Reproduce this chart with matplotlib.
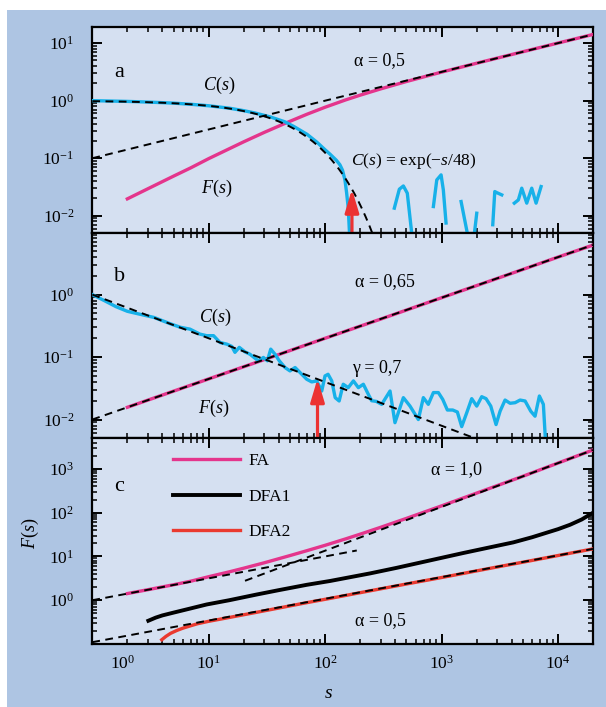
import numpy as np
import matplotlib
matplotlib.use('Agg')
import matplotlib.pyplot as plt
from matplotlib.ticker import FixedLocator, FixedFormatter, LogLocator, NullFormatter
from matplotlib.patches import Rectangle
from matplotlib import transforms

plt.rcParams['font.family'] = ['Liberation Serif', 'DejaVu Serif']
plt.rcParams['mathtext.fontset'] = 'custom'
plt.rcParams['mathtext.rm'] = 'Liberation Serif'
plt.rcParams['mathtext.it'] = 'Liberation Serif:italic'
plt.rcParams['mathtext.bf'] = 'Liberation Serif:bold'

nan = np.nan

# ---------------- data: panel a ----------------
fa_a_s = [2, 3, 5, 7, 10, 15, 20, 30, 46, 70, 100, 150, 200, 300, 500, 1000, 2000, 5000, 10000, 20000]
fa_a_F = [0.0197, 0.0295, 0.049, 0.068, 0.0985, 0.146, 0.193, 0.281, 0.409, 0.582, 0.769, 1.03, 1.245, 1.60,
          2.15, 3.13, 4.46, 7.07, 10.0, 14.1]
c_a_s = [1, 2, 3, 5, 7, 10, 15, 20, 25, 34, 45, 54, 70, 85, 100, 110, 125, 134, 141, 148, 153, 158, 164, nan,
         393, 434, 470, 508, 570, nan,
         851, 910, 991, 1036, 1093, nan,
         1472, 1820, 2006, nan,
         2754, 2866, 2980, 3290, nan,
         4219, 4570, 4887, 5394, 5955, 6489, 7161]
c_a_C = [1.0, 0.97, 0.945, 0.905, 0.865, 0.815, 0.74, 0.67, 0.61, 0.52, 0.43, 0.355, 0.26, 0.19, 0.14, 0.118,
         0.092, 0.077, 0.062, 0.042, 0.025, 0.0136, 0.003, nan,
         0.0136, 0.029, 0.033, 0.0247, 0.003, nan,
         0.0145, 0.042, 0.0514, 0.0282, 0.0075, nan,
         0.0177, 0.002, 0.0111, nan,
         0.0070, 0.0264, 0.0253, 0.0231, nan,
         0.0166, 0.0189, 0.0302, 0.0166, 0.0302, 0.0166, 0.0322]
fit_a_F_s = [1, 20000]
fit_a_F = [0.1, 14.1]
fit_a_tau = 48.0
fit_a_C_smax = 260
arrow_a = (170, 0.029)

# ---------------- data: panel b ----------------
fa_b_s = [2, 5, 10, 30, 100, 300, 1000, 3000, 10000, 20000]
fa_b_F = [0.0157, 0.0285, 0.0447, 0.091, 0.2, 0.405, 0.89, 1.81, 3.98, 6.2]
c_b_s = [1, 1.27, 1.6, 2.0, 2.5, 3.4, 4.7, 5.7, 6.9, 8.4, 9.6, 11.0, 12.5, 14.3, 15.8, 16.8, 18.3, 20.5, 22.6,
         24.5, 26.7, 29.5, 31.9, 34.1, 37.1, 40.4, 45.2, 49.9, 55.2, 60.9, 69.5, 76.7, 84.7, 93.5, 99.8, 106,
         114, 122, 132, 143, 158, 175, 193, 213, 235, 251, 275, 306, 361, 398, 470, 536, 632, 698, 770, 851,
         939, 1024, 1122, 1248, 1367, 1490, 1645, 1816, 2006, 2214, 2411, 2648, 2939, 3184, 3513, 3880, 4285,
         4727, 5222, 5837, 6356, 6925, 7494, 8017]
c_b_C = [1.0, 0.80, 0.64, 0.54, 0.49, 0.43, 0.34, 0.30, 0.28, 0.233, 0.22, 0.22, 0.171, 0.161, 0.148, 0.119,
         0.143, 0.121, 0.111, 0.0986, 0.087, 0.0986, 0.087, 0.134, 0.111, 0.087, 0.068, 0.060, 0.068, 0.0565,
         0.0441, 0.040, 0.0415, 0.0286, 0.0499, 0.053, 0.0415, 0.0224, 0.0198, 0.0367, 0.0324, 0.0415, 0.0324,
         0.0367, 0.0253, 0.020, 0.0195, 0.0175, 0.0286, 0.0089, 0.0224, 0.0164, 0.0100, 0.0224, 0.0175, 0.027,
         0.027, 0.021, 0.0142, 0.0142, 0.0132, 0.0077, 0.0128, 0.0216, 0.0164, 0.0232, 0.0216, 0.0164, 0.0083,
         0.0136, 0.0205, 0.0182, 0.0186, 0.0205, 0.0198, 0.0136, 0.0113, 0.0238, 0.0175, 0.002]
fit_b_F_s = [1, 20000]
fit_b_F = [0.01, 6.24]
fit_b_C_s = [1, 2000]
fit_b_C = [1.0, 0.0049]
arrow_b = (86, 0.045)

# ---------------- data: panel c ----------------
fa_c_s = [2, 3, 5, 7, 10, 15, 20, 30, 50, 70, 100, 150, 200, 300, 500, 1000, 2000, 5000, 10000, 20000]
fa_c_F = [1.42, 1.74, 2.26, 2.72, 3.45, 4.45, 5.4, 7.17, 10.5, 13.6, 18.0, 25.2, 32.3, 46.4, 74.2, 143, 280,
          680, 1360, 2710]
dfa1_s = [3.03, 3.5, 4, 4.97, 7, 9.6, 15, 25.8, 40, 69.5, 110, 243, 412, 1000, 1538, 2500, 4140, 6000, 8020,
          10000, 12700, 16000, 20000]
dfa1_F = [0.34, 0.40, 0.45, 0.52, 0.65, 0.80, 1.0, 1.35, 1.7, 2.25, 2.75, 4.1, 5.5, 9.3, 12.0, 15.8, 21, 27.5,
          35, 42, 53, 70, 100]
dfa2_s = [3.95, 4.3, 4.7, 5.3, 6, 6.9, 8, 10, 13.3, 25.8, 69.5, 110, 243, 500, 1000, 1538, 3000, 5000, 10000,
          20000]
dfa2_F = [0.125, 0.15, 0.175, 0.203, 0.23, 0.258, 0.29, 0.33, 0.38, 0.53, 0.88, 1.1, 1.64, 2.35, 3.3, 4.1, 5.75,
          7.4, 10.5, 14.9]
fit_c_05_s = [1, 187]
fit_c_05 = [1.0, 13.7]
fit_c_10_s = [20.5, 20000]
fit_c_10 = [2.78, 2712]
fit_c_low_s = [1, 20000]
fit_c_low = [0.11, 14.9]

# ---------------- styling ----------------
outer_bg = '#aec5e3'
ax_bg = '#d5e0f1'
pink = '#e4358c'
cyan = '#17b1e9'
red = '#ea3a30'
arrow_red = '#ec3232'

fig = plt.figure(figsize=(6.06, 7.07), dpi=100)
fig.patch.set_facecolor('white')
fig.patches.append(Rectangle((7 / 606, 0), 1 - 7 / 606, 1 - 10 / 707, transform=fig.transFigure,
                             facecolor=outer_bg, edgecolor='none', zorder=-10))

gs = fig.add_gridspec(3, 1, left=92.3 / 606, right=593 / 606, top=1 - 27 / 707, bottom=1 - 644 / 707,
                      hspace=0)
axa = fig.add_subplot(gs[0])
axb = fig.add_subplot(gs[1])
axc = fig.add_subplot(gs[2])

dash_kw = dict(color='black', lw=1.4, ls=(0, (4, 2.8)), zorder=5)
LW = 2.4


def style(ax, ylim, yt, ylabels, show_x):
    ax.set_xscale('log')
    ax.set_yscale('log')
    ax.set_facecolor(ax_bg)
    ax.set_xlim(1, 2e4)
    ax.set_ylim(*ylim)
    for sp in ax.spines.values():
        sp.set_linewidth(1.6)
    ax.xaxis.set_major_locator(FixedLocator([1, 10, 100, 1000, 10000]))
    ax.xaxis.set_minor_locator(LogLocator(base=10, subs=np.arange(2, 10), numticks=30))
    ax.yaxis.set_major_locator(FixedLocator(yt))
    ax.yaxis.set_major_formatter(FixedFormatter(ylabels))
    ax.yaxis.set_minor_locator(LogLocator(base=10, subs=np.arange(2, 10), numticks=30))
    ax.xaxis.set_minor_formatter(NullFormatter())
    ax.yaxis.set_minor_formatter(NullFormatter())
    ax.tick_params(which='both', direction='in', top=True, right=True, bottom=True, left=True)
    ax.tick_params(which='major', length=7.5, width=1.4)
    ax.tick_params(which='minor', length=3.8, width=1.1)
    ax.tick_params(axis='y', which='major', pad=13, labelsize=12.5)
    if show_x:
        ax.xaxis.set_major_formatter(FixedFormatter(['', r'$10^{1}$', r'$10^{2}$', r'$10^{3}$', r'$10^{4}$']))
        ax.tick_params(axis='x', which='major', pad=8, labelsize=12.5)
    else:
        ax.tick_params(axis='x', labelbottom=False)


style(axa, (0.0051, 19), [1e-2, 1e-1, 1, 10], [r'$10^{-2}$', r'$10^{-1}$', r'$10^{0}$', r'$10^{1}$'], False)
style(axb, (0.005, 9.8), [1e-2, 1e-1, 1], [r'$10^{-2}$', r'$10^{-1}$', r'$10^{0}$'], False)
style(axc, (0.1, 5000), [1, 10, 100, 1000], [r'$10^{0}$', r'$10^{1}$', r'$10^{2}$', r'$10^{3}$'], True)


def up_arrow(ax, pt):
    s, top = pt
    y0 = ax.get_ylim()[0]
    ax.annotate('', xy=(s, top), xytext=(s, y0), xycoords='data', textcoords='data',
                arrowprops=dict(arrowstyle='-|>,head_length=1.4,head_width=0.42', color=arrow_red, lw=2.3,
                                shrinkA=0, shrinkB=0, mutation_scale=10), zorder=6, annotation_clip=False)


def label(ax, x, y, s, fs=13):
    ax.text(x, y, s, transform=ax.transAxes, ha='center', va='center', fontsize=fs)


# ---- panel a ----
axa.plot(fa_a_s, fa_a_F, color=pink, lw=LW, zorder=3)
axa.plot(c_a_s, c_a_C, color=cyan, lw=LW, zorder=3)
axa.plot(fit_a_F_s, fit_a_F, **dash_kw)
s_exp = np.logspace(0, np.log10(fit_a_C_smax), 300)
axa.plot(s_exp, np.exp(-s_exp / fit_a_tau), **dash_kw)
up_arrow(axa, arrow_a)
label(axa, 0.054, 0.777, 'a', 16)
label(axa, 0.254, 0.714, r'$C(s)$')
label(axa, 0.574, 0.835, 'α = 0,5')
label(axa, 0.643, 0.350, r'$C(s)\,=\,\mathrm{exp}(-s/48)$', 12.5)
label(axa, 0.248, 0.214, r'$F(s)$')

# ---- panel b ----
axb.plot(fa_b_s, fa_b_F, color=pink, lw=LW, zorder=3)
axb.plot(c_b_s, c_b_C, color=cyan, lw=LW, zorder=3)
axb.plot(fit_b_F_s, fit_b_F, **dash_kw)
axb.plot(fit_b_C_s, fit_b_C, **dash_kw)
up_arrow(axb, arrow_b)
label(axb, 0.0553, 0.789, 'b', 16)
label(axb, 0.584, 0.760, 'α = 0,65')
label(axb, 0.246, 0.590, r'$C(s)$')
label(axb, 0.569, 0.340, 'γ = 0,7')
label(axb, 0.242, 0.146, r'$F(s)$')

# ---- panel c ----
l_fa, = axc.plot(fa_c_s, fa_c_F, color=pink, lw=LW, zorder=3)
l_d1, = axc.plot(dfa1_s, dfa1_F, color='black', lw=2.8, zorder=3)
l_d2, = axc.plot(dfa2_s, dfa2_F, color=red, lw=LW, zorder=3)
axc.plot(fit_c_05_s, fit_c_05, **dash_kw)
axc.plot(fit_c_10_s, fit_c_10, **dash_kw)
axc.plot(fit_c_low_s, fit_c_low, **dash_kw)
label(axc, 0.054, 0.767, 'c', 16)
label(axc, 0.728, 0.849, 'α = 1,0')
label(axc, 0.576, 0.113, 'α = 0,5')
axc.legend([l_fa, l_d1, l_d2], ['FA', 'DFA1', 'DFA2'], loc='center left', bbox_to_anchor=(0.1618, 0.716),
           frameon=False, borderpad=0, borderaxespad=0, handlelength=3.86, handletextpad=0.45,
           labelspacing=1.12, fontsize=12.5)

# shifted 10^0 label as in the original
tr = transforms.blended_transform_factory(axc.transData, axc.transAxes) + \
    transforms.ScaledTranslation(0, -8 / 72, fig.dpi_scale_trans)
axc.text(1.82, 0, r'$10^{0}$', transform=tr, ha='center', va='top', fontsize=12.5)

axc.set_ylabel(r'$F(s)$', fontsize=13)
axc.yaxis.set_label_coords(-0.102, 0.54)
axc.set_xlabel(r'$s$', fontsize=14)
axc.xaxis.set_label_coords(0.472, -0.2)

fig.savefig('out.png', dpi=100, facecolor='white')
